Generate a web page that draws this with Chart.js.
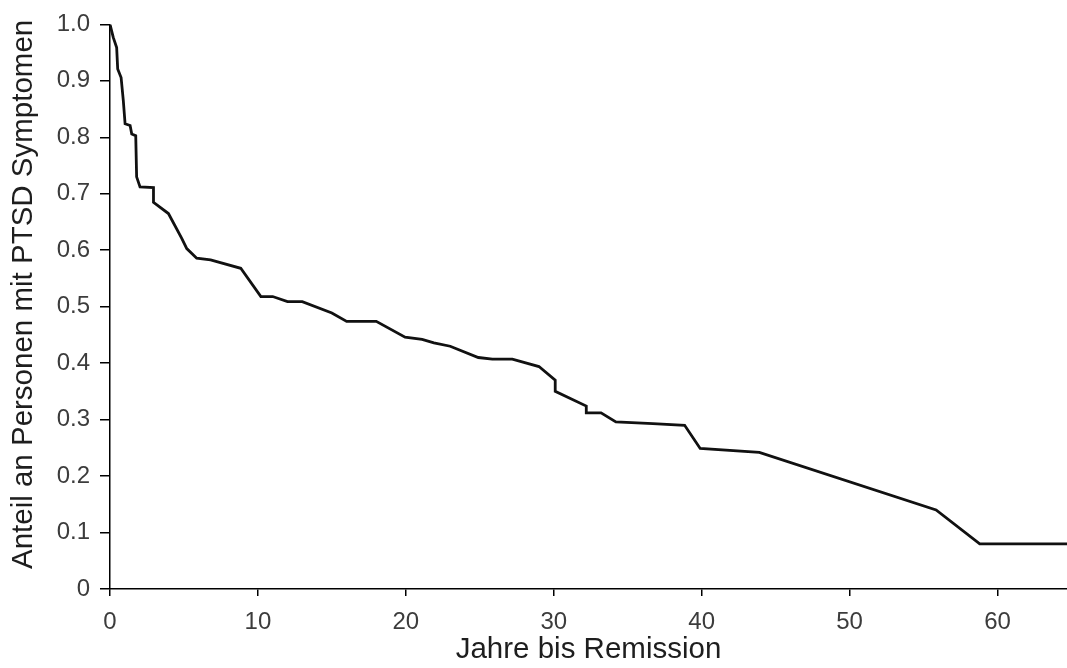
<!DOCTYPE html>
<html>
<head>
<meta charset="utf-8">
<script src="https://cdn.jsdelivr.net/npm/chart.js@4"></script>
<style>
  html, body { margin: 0; padding: 0; background: #fff; }
</style>
</head>
<body>
<canvas id="chart" width="1067" height="668"></canvas>
<script>
// years until remission (x) and share still with symptoms (y)
const years = [0, 0.22, 0.45, 0.52, 0.75, 0.9, 1.02, 1.36, 1.47, 1.74, 1.8, 2.03, 2.94, 2.94, 3.95,
  4.85, 5.19, 5.86, 6.8, 8.84, 10.2, 11.0, 12.0, 13.0, 15.0, 16.0, 18.0, 19.95, 21.1, 21.9,
  23.0, 24.9, 25.85, 27.2, 29.0, 30.1, 30.1, 32.2, 32.2, 33.2, 34.2, 36.7, 38.85, 39.9,
  43.9, 55.85, 58.8, 64.7];
const share = [1.0, 0.977, 0.959, 0.921, 0.906, 0.865, 0.824, 0.821, 0.806, 0.803, 0.73, 0.712, 0.711, 0.685, 0.665,
  0.621, 0.603, 0.586, 0.583, 0.568, 0.518, 0.518, 0.509, 0.509, 0.489, 0.474, 0.474, 0.446, 0.442, 0.436,
  0.43, 0.41, 0.407, 0.407, 0.394, 0.37, 0.35, 0.324, 0.312, 0.312, 0.296, 0.293, 0.29, 0.249,
  0.242, 0.14, 0.08, 0.08];

const xTicks = [0, 10, 20, 30, 40, 50, 60];
const yTicks = [0, 0.1, 0.2, 0.3, 0.4, 0.5, 0.6, 0.7, 0.8, 0.9, 1.0];
const yTickLabels = ["0", "0.1", "0.2", "0.3", "0.4", "0.5", "0.6", "0.7", "0.8", "0.9", "1.0"];

const points = years.map((x, i) => ({ x: x, y: share[i] }));

const tickFont = { family: "'Liberation Sans', Arial, sans-serif", size: 24 };
const titleFont = { family: "'Liberation Sans', Arial, sans-serif", size: 29.5 };

new Chart(document.getElementById("chart"), {
  type: "line",
  data: {
    datasets: [
      {
        data: points,
        borderColor: "#111",
        borderWidth: 2.8,
        pointRadius: 0,
        tension: 0,
        fill: false,
      },
    ],
  },
  options: {
    responsive: false,
    animation: false,
    layout: { padding: { top: 22, right: 0, left: 0, bottom: 0 } },
    plugins: { legend: { display: false }, tooltip: { enabled: false } },
    scales: {
      x: {
        type: "linear",
        min: 0,
        max: 64.7,
        afterBuildTicks: (scale) => {
          scale.ticks = xTicks.map((v) => ({ value: v }));
        },
        afterFit: (scale) => {
          scale.height = 79;
        },
        grid: { drawOnChartArea: false, drawTicks: true, tickLength: 7, color: "#000", lineWidth: 1.5 },
        border: { display: true, color: "#000", width: 1.5 },
        ticks: { color: "#3c3c3c", font: tickFont, padding: 12, maxRotation: 0 },
        title: {
          display: true,
          text: "Jahre bis Remission",
          color: "#1e1e1e",
          font: titleFont,
          padding: { top: 0, bottom: 0 },
        },
      },
      y: {
        type: "linear",
        min: 0,
        max: 1,
        afterBuildTicks: (scale) => {
          scale.ticks = yTicks.map((v) => ({ value: v }));
        },
        afterFit: (scale) => {
          scale.width = 110;
        },
        grid: { drawOnChartArea: false, drawTicks: true, tickLength: 10, color: "#000", lineWidth: 1.5 },
        border: { display: true, color: "#000", width: 1.5 },
        ticks: {
          color: "#3c3c3c",
          font: tickFont,
          padding: 10,
          callback: (v, i) => yTickLabels[i],
        },
        title: {
          display: true,
          // leading spaces nudge the rotated title up a bit, like in the original
          text: "   Anteil an Personen mit PTSD Symptomen",
          color: "#1e1e1e",
          font: titleFont,
          padding: { top: 6, bottom: 0 },
        },
      },
    },
  },
});
</script>
</body>
</html>
